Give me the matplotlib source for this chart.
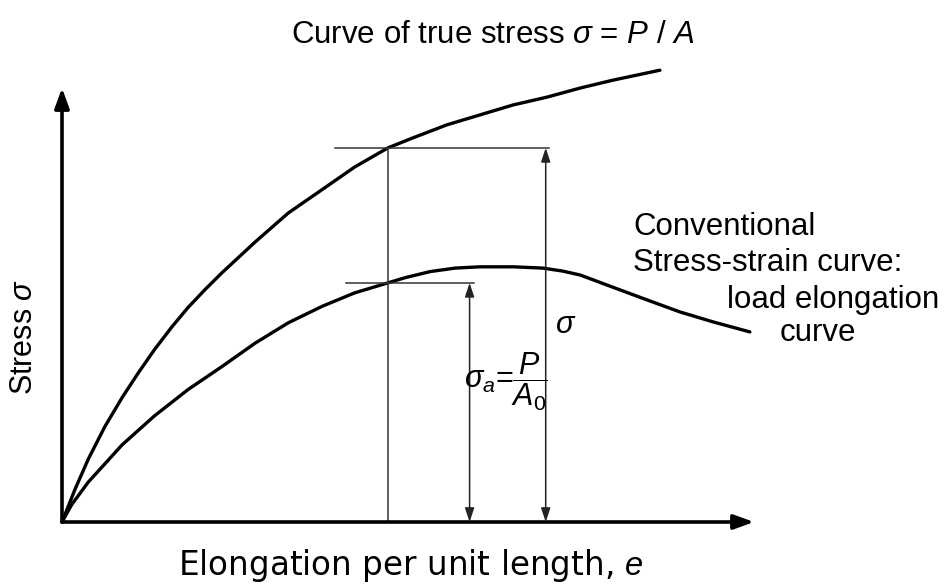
import numpy as np
import matplotlib
matplotlib.use("Agg")
import matplotlib.pyplot as plt

plt.rcParams['font.family'] = ['Liberation Sans', 'DejaVu Sans']
plt.rcParams['mathtext.fontset'] = 'custom'
plt.rcParams['mathtext.rm'] = 'Liberation Sans'
plt.rcParams['mathtext.it'] = 'Liberation Sans:italic'

# true stress curve (strain, stress), axis arrows at 1.0
true_e = [0, 0.019, 0.038, 0.062, 0.087, 0.110, 0.134, 0.159, 0.182, 0.207, 0.231,
          0.279, 0.327, 0.376, 0.423, 0.471, 0.507, 0.556, 0.604, 0.652, 0.701,
          0.749, 0.796, 0.864]
true_s = [0, 0.076, 0.145, 0.220, 0.287, 0.343, 0.398, 0.450, 0.494, 0.536, 0.574,
          0.645, 0.712, 0.766, 0.818, 0.862, 0.885, 0.915, 0.938, 0.961, 0.979,
          1.000, 1.018, 1.041]

# conventional (engineering) stress-strain curve
conv_e = [0, 0.014, 0.038, 0.087, 0.134, 0.182, 0.231, 0.279, 0.327, 0.376, 0.423,
          0.471, 0.496, 0.532, 0.568, 0.604, 0.652, 0.695, 0.724, 0.749, 0.796,
          0.845, 0.893, 0.941, 0.994]
conv_s = [0, 0.040, 0.092, 0.178, 0.245, 0.305, 0.358, 0.412, 0.459, 0.497, 0.528,
          0.551, 0.563, 0.577, 0.585, 0.588, 0.588, 0.585, 0.578, 0.569, 0.541,
          0.512, 0.484, 0.461, 0.438]

# strain where both stresses are compared
e_pick = 0.471
sig_true = 0.862
sig_conv = 0.551
# where the dimension arrows stand
e_arrow_conv = 0.589
e_arrow_true = 0.699

fig = plt.figure(figsize=(9.53, 5.85), dpi=100)
ax = fig.add_axes([62/953, 63/585, 692/953, 434/585])
ax.set_xlim(0, 1)
ax.set_ylim(0, 1)
ax.axis('off')

# axes with arrowheads
head = dict(arrowstyle='-|>,head_length=0.55,head_width=0.2', lw=2.6, color='black',
            shrinkA=0, shrinkB=0, mutation_scale=22)
ax.annotate('', xy=(0, 1), xytext=(0, 0), arrowprops=head, annotation_clip=False)
ax.annotate('', xy=(1, 0), xytext=(0, 0), arrowprops=head, annotation_clip=False)

ax.plot(true_e, true_s, color='black', lw=2.4, solid_capstyle='round',
        solid_joinstyle='round', clip_on=False)
ax.plot(conv_e, conv_s, color='black', lw=2.4, solid_capstyle='round',
        solid_joinstyle='round', clip_on=False)

# construction lines
thin = dict(color='#333333', lw=1.1)
ax.plot([e_pick, e_pick], [0, sig_true], **thin)
ax.plot([0.395, e_arrow_true + 0.005], [sig_true, sig_true], **thin)
ax.plot([0.41, e_arrow_conv + 0.007], [sig_conv, sig_conv], **thin)

dim = dict(arrowstyle='<|-|>,head_length=0.6,head_width=0.2', lw=1.1, color='#222222',
           shrinkA=0, shrinkB=0, mutation_scale=14)
ax.annotate('', xy=(e_arrow_true, sig_true), xytext=(e_arrow_true, 0), arrowprops=dim)
ax.annotate('', xy=(e_arrow_conv, sig_conv), xytext=(e_arrow_conv, 0), arrowprops=dim)

# labels
fig.text(493/953, 1 - 35/585, r"Curve of true stress $\sigma$ = $P$ / $A$",
         ha='center', va='center', fontsize=22.5)
fig.text(411/953, 1 - 565/585, "Elongation per unit length, $e$",
         ha='center', va='center', fontsize=23.5, family='DejaVu Sans')
fig.text(24/953, 1 - 337/585, r"Stress $\sigma$", rotation=90,
         ha='center', va='center', fontsize=22)

fig.text(633/953, 1 - 227/585, "Conventional", ha='left', va='center', fontsize=22.5)
fig.text(633/953, 1 - 263/585, "Stress-strain curve:", ha='left', va='center', fontsize=22.5)
fig.text(727/953, 1 - 300/585, "load elongation", ha='left', va='center', fontsize=22.5)
fig.text(780/953, 1 - 333/585, "curve", ha='left', va='center', fontsize=22.5)

fig.text(566/953, 1 - 325/585, r"$\sigma$", ha='center', va='center', fontsize=22)
fig.text(506/953, 1 - 382/585, r"$\sigma_a$=$\dfrac{P}{A_0}$", ha='center', va='center',
         fontsize=22)

fig.savefig("out.png", dpi=100)
